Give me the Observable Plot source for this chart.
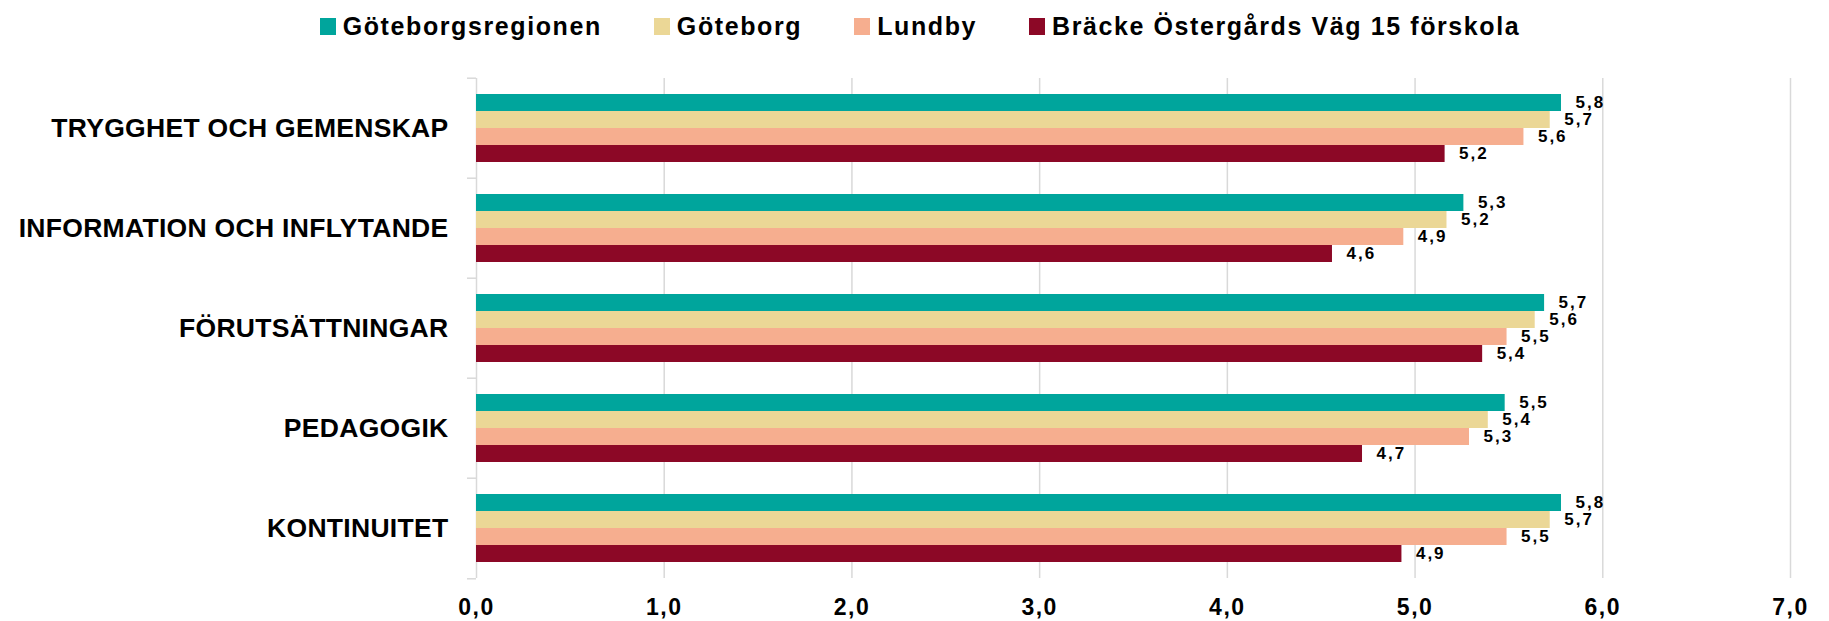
<!DOCTYPE html>
<html><head><meta charset="utf-8">
<script src="https://cdn.jsdelivr.net/npm/d3@7"></script>
<script src="https://cdn.jsdelivr.net/npm/@observablehq/plot@0.6"></script>
<style>
body{margin:0;background:#fff;font-family:"Liberation Sans",Arial,sans-serif;}
#legend{height:52px;display:flex;align-items:center;justify-content:center;gap:52px;padding-left:11px;box-sizing:border-box;}
.item{display:flex;align-items:center;font-size:25px;font-weight:bold;letter-spacing:1.6px;color:#000;}
.sw{width:16px;height:17px;margin-right:7px;}
g[font-size="17"] text{letter-spacing:2px;}
g[font-size="23"] text{letter-spacing:1.5px;}
g[font-size="26.5"] text{letter-spacing:0.3px;}
</style></head><body>
<div id="legend"></div><div id="chart"></div>
<script>
const categories = ["TRYGGHET OCH GEMENSKAP","INFORMATION OCH INFLYTANDE","FÖRUTSÄTTNINGAR","PEDAGOGIK","KONTINUITET"];
const series = ["Göteborgsregionen","Göteborg","Lundby","Bräcke Östergårds Väg 15 förskola"];
const colors = ["#00a59c","#ebd796","#f6ae8f","#8c0826"];
const goteborgsregionen = [5.78, 5.26, 5.69, 5.48, 5.78];
const goteborg = [5.72, 5.17, 5.64, 5.39, 5.72];
const lundby = [5.58, 4.94, 5.49, 5.29, 5.49];
const bracke = [5.16, 4.56, 5.36, 4.72, 4.93];
const xTicks = [0,1,2,3,4,5,6,7];

const seriesValues = [goteborgsregionen, goteborg, lundby, bracke];
const rows = categories.flatMap((c,i) => series.map((s,j) => ({category:c, series:s, value:seriesValues[j][i]})));
const fmt = v => v.toFixed(1).replace(".", ",");

// legend
const leg = document.getElementById("legend");
series.forEach((s,j) => {
  const it = document.createElement("div"); it.className = "item";
  const sw = document.createElement("span"); sw.className = "sw"; sw.style.background = colors[j];
  const tx = document.createElement("span"); tx.textContent = s;
  it.appendChild(sw); it.appendChild(tx); leg.appendChild(it);
});

const W = 1829, H = 569, mt = 24, mb = 42, ml = 476, mr = 39;
const step = (H - mt - mb) / categories.length;
const grid = "#d9d9d9";

const chart = Plot.plot({
  width: W, height: H, marginTop: mt, marginBottom: mb, marginLeft: ml, marginRight: mr,
  style: {fontFamily: "'Liberation Sans', Arial, sans-serif", color: "#000", background: "#fff"},
  x: {domain: [0, 7], label: null},
  y: {domain: series, axis: null, paddingInner: 0, paddingOuter: 0.78},
  fy: {domain: categories, padding: 0, label: null},
  color: {domain: series, range: colors},
  marks: [
    Plot.ruleX(xTicks, {stroke: grid, strokeWidth: 1.5}),
    Plot.barX(rows, {fy: "category", y: "series", x: "value", fill: "series"}),
    Plot.text(rows, {fy: "category", y: "series", x: "value", text: d => fmt(d.value), dx: 14, textAnchor: "start", fontSize: 17, fontWeight: "bold", fill: "#000"}),
    Plot.text(categories, {fy: d => d, text: d => d, frameAnchor: "left", dx: -28, textAnchor: "end", fontSize: 26.5, fontWeight: "bold", fill: "#000"}),
    Plot.axisFy({anchor: "left", label: null, tickSize: 9, tickFormat: () => "", stroke: grid, strokeWidth: 1.5, dy: -step/2}),
    Plot.axisFy({anchor: "left", label: null, ticks: [categories[categories.length-1]], tickSize: 9, tickFormat: () => "", stroke: grid, strokeWidth: 1.5, dy: step/2}),
    Plot.axisX({label: null, ticks: xTicks, tickSize: 0, tickPadding: 20, tickFormat: fmt, fontSize: 23, fontWeight: "bold", fill: "#000"})
  ]
});
document.getElementById("chart").appendChild(chart);
</script>
</body></html>
